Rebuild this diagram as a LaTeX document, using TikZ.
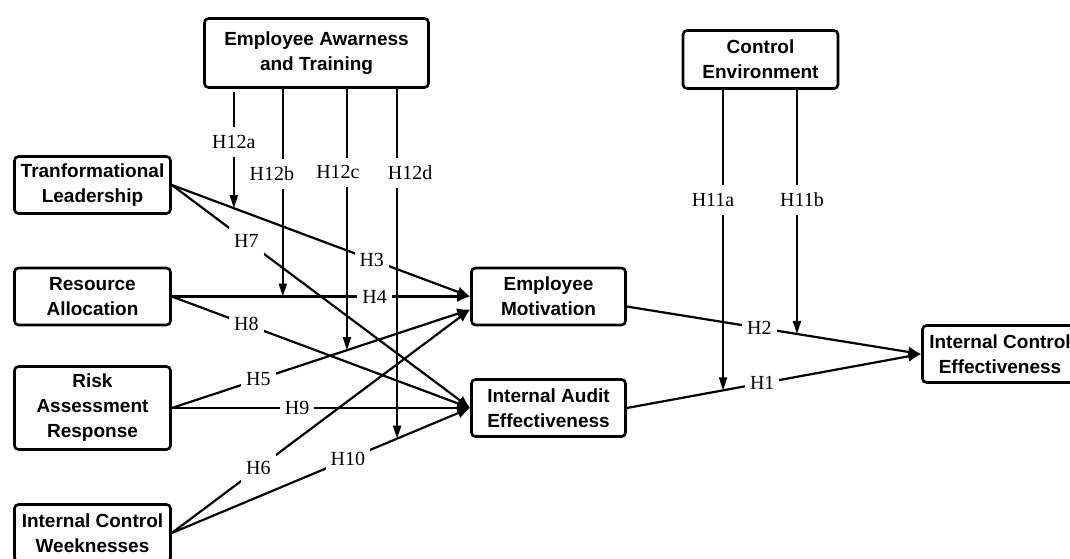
\documentclass[tikz,border=0pt]{standalone}
\usepackage{fontspec}
\setmainfont{Liberation Serif}
\newfontfamily\boxfont{Liberation Sans}
\usetikzlibrary{arrows.meta,calc}
\begin{document}
\begin{tikzpicture}[x=1pt,y=-1pt,
  box/.style={draw, line width=2.6pt, rounded corners=4pt, align=center,
    font=\boxfont\bfseries\fontsize{19}{25}\selectfont, inner sep=0pt,
    minimum width=156pt, minimum height=57pt},
  link/.style={line width=2.2pt, -{Latex[length=13pt,width=11pt]}},
  modarrow/.style={line width=2pt, -{Triangle[length=13pt,width=8pt]}},
  hlab/.style={fill=white, font=\fontsize{20}{24}\selectfont, inner xsep=5pt, inner ysep=8pt},
]
\useasboundingbox (0,0) rectangle (1070,558);
\fill[white] (0,0) rectangle (1070,558);

% boxes
\node[box, minimum width=224pt, minimum height=69pt] (EAT) at (316.5,53) {Employee Awarness\\and Training};
\node[box, minimum width=155pt, minimum height=58pt] (CE) at (760.5,59.5) {Control\\Environment};
\node[box] (TL) at (92.5,185) {Tranformational\\Leadership};
\node[box] (RA) at (92.5,296.5) {Resource\\Allocation};
\node[box, minimum height=83pt] (RAR) at (92.5,408) {Risk\\Assessment\\Response};
\node[box] (ICW) at (92.5,533) {Internal Control\\Weeknesses};
\node[box, minimum width=154pt] (EM) at (548.5,296.5) {Employee\\Motivation};
\node[box, minimum width=154pt] (IAE) at (548.5,408) {Internal Audit\\Effectiveness};
\node[box, minimum width=155pt] (ICE) at (1000,354) {Internal Control\\Effectiveness};

% connection points
\coordinate (EMb) at ($(EM.west)+(0,13)$);
\coordinate (EMo) at ($(EM.east)+(0,10)$);

% main links
\draw[link] (TL.east) -- node[hlab,pos=0.67]{H3} (EM.west);
\draw[link] (TL.east) -- node[hlab,pos=0.25]{H7} (IAE.west);
\draw[link] (RA.east) -- node[hlab,pos=0.68]{H4} (EM.west);
\draw[link] (RA.east) -- node[hlab,pos=0.25]{H8} (IAE.west);
\draw[link] (RAR.east) -- node[hlab,pos=0.29]{H5} (EMb);
\draw[link] (RAR.east) -- node[hlab,pos=0.42]{H9} (IAE.west);
\draw[link] (ICW.east) -- node[hlab,pos=0.29]{H6} (EMb);
\draw[link] (ICW.east) -- node[hlab,pos=0.59]{H10} (IAE.west);
\draw[link] (EMo) -- node[hlab,pos=0.45]{H2} (ICE.west);
\draw[link] (IAE.east) -- node[hlab,pos=0.46]{H1} (ICE.west);

% moderation targets
\coordinate (m12a) at ($(TL.east)!0.208!(EM.west)$);
\coordinate (m12b) at ($(RA.east)!0.372!(EM.west)$);
\coordinate (m12c) at ($(RAR.east)!0.587!(EMb)$);
\coordinate (m12d) at ($(ICW.east)!0.755!(IAE.west)$);
\coordinate (m11a) at ($(IAE.east)!0.327!(ICE.west)$);
\coordinate (m11b) at ($(EMo)!0.578!(ICE.west)$);

% moderation arrows
\draw[modarrow] ($(EAT.south -| m12a)+(0,3)$) -- node[hlab,pos=0.43]{H12a} (m12a);
\draw[modarrow] (EAT.south -| m12b) -- node[hlab,pos=0.41,xshift=-11pt]{H12b} (m12b);
\draw[modarrow] (EAT.south -| m12c) -- node[hlab,pos=0.32,xshift=-9pt]{H12c} (m12c);
\draw[modarrow] (EAT.south -| m12d) -- node[hlab,pos=0.24,xshift=13pt]{H12d} (m12d);
\draw[modarrow] (CE.south -| m11a) -- node[hlab,pos=0.367,xshift=-10pt]{H11a} (m11a);
\draw[modarrow] (CE.south -| m11b) -- node[hlab,pos=0.45,xshift=5pt]{H11b} (m11b);
\end{tikzpicture}
\end{document}
